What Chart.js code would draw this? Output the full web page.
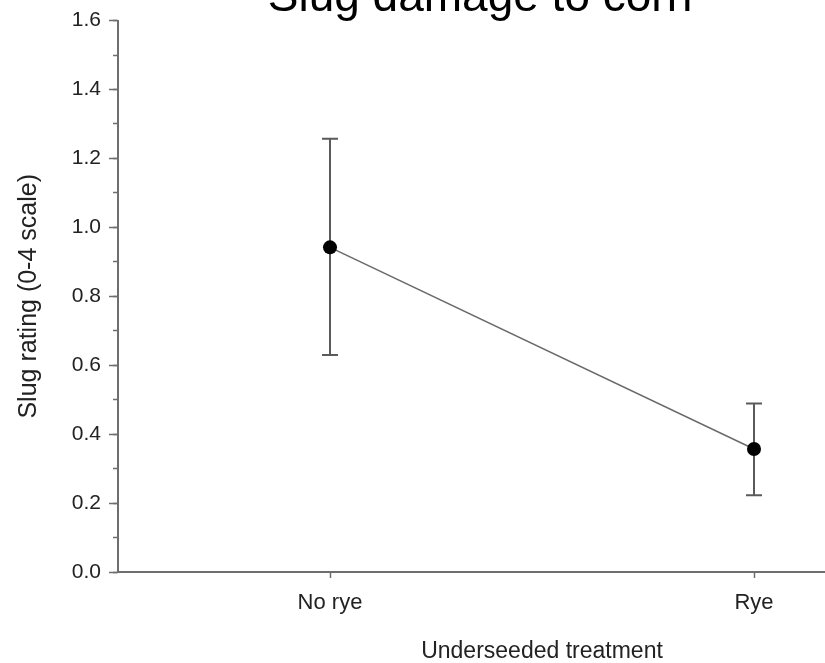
<!DOCTYPE html>
<html>
<head>
<meta charset="utf-8">
<script src="https://cdn.jsdelivr.net/npm/chart.js@4"></script>
<style>
  html, body { margin: 0; padding: 0; background: #fff; overflow: hidden; }
  #wrap { position: absolute; left: 0; top: 0; }
</style>
</head>
<body>
<div id="wrap"><canvas id="slugChart" width="980" height="663"></canvas></div>
<script>
// data
const categories = ['No rye', 'Rye'];
const meanRating = [0.942, 0.357];
const errHigh = [1.257, 0.489];
const errLow = [0.630, 0.223];
const yTickLabels = ['0.0', '0.2', '0.4', '0.6', '0.8', '1.0', '1.2', '1.4', '1.6'];
const chartTitle = 'Slug damage to corn';

const axisGray = '#6e6e6e';
const fontFam = '"Liberation Sans", Arial, sans-serif';

// error bars, drawn under the points
const errorBars = {
    id: 'errorBars',
    beforeDatasetsDraw(chart) {
        const ctx = chart.ctx;
        const x = chart.scales.x;
        const y = chart.scales.y;
        ctx.save();
        ctx.strokeStyle = '#5a5a5a';
        ctx.lineWidth = 2;
        for (let i = 0; i < categories.length; i++) {
            const px = x.getPixelForValue(i);
            const top = y.getPixelForValue(errHigh[i]);
            const bot = y.getPixelForValue(errLow[i]);
            ctx.beginPath();
            ctx.moveTo(px, top); ctx.lineTo(px, bot);
            ctx.moveTo(px - 8, top); ctx.lineTo(px + 8, top);
            ctx.moveTo(px - 8, bot); ctx.lineTo(px + 8, bot);
            ctx.stroke();
        }
        ctx.restore();
    }
};

// big title, partly cut off at the top like the original
const topTitle = {
    id: 'topTitle',
    afterDraw(chart) {
        const ctx = chart.ctx;
        ctx.save();
        ctx.font = '46px ' + fontFam;
        ctx.fillStyle = '#000';
        ctx.textAlign = 'center';
        ctx.textBaseline = 'alphabetic';
        ctx.fillText(chartTitle, 480, 11);
        ctx.restore();
    }
};

const ctx = document.getElementById('slugChart').getContext('2d');
const slugChart = new Chart(ctx, {
    type: 'line',
    data: {
        labels: categories,
        datasets: [{
            data: meanRating,
            borderColor: '#6a6a6a',
            borderWidth: 1.5,
            pointRadius: 7,
            pointBackgroundColor: '#000',
            pointBorderColor: '#000',
            pointBorderWidth: 0,
            tension: 0
        }]
    },
    options: {
        responsive: false,
        animation: false,
        layout: { padding: { top: 18, right: 14, left: 0, bottom: 0 } },
        plugins: {
            legend: { display: false },
            tooltip: { enabled: false },
            title: { display: false }
        },
        scales: {
            x: {
                type: 'category',
                offset: true,
                grid: { offset: false, drawOnChartArea: false, tickLength: 6, tickColor: axisGray, tickWidth: 1.5 },
                border: { color: axisGray, width: 2 },
                ticks: { color: '#222', font: { family: fontFam, size: 22 }, padding: 12 },
                title: {
                    display: true,
                    text: 'Underseeded treatment',
                    color: '#222',
                    font: { family: fontFam, size: 23, lineHeight: 1 },
                    padding: { top: 0, bottom: 0 }
                },
                afterFit(scale) { scale.height = 91; }
            },
            y: {
                weight: 1,
                min: 0,
                max: 1.6,
                ticks: {
                    stepSize: 0.2,
                    color: '#222',
                    font: { family: fontFam, size: 21 },
                    padding: 8,
                    callback: (v) => yTickLabels[Math.round(v / 0.2)]
                },
                grid: { drawOnChartArea: false, tickLength: 9, tickColor: axisGray, tickWidth: 1.5 },
                border: { color: axisGray, width: 2 },
                title: {
                    display: true,
                    text: 'Slug rating (0-4 scale)',
                    color: '#222',
                    font: { family: fontFam, size: 25, lineHeight: 1 },
                    padding: { top: 17, bottom: 0 }
                },
                afterFit(scale) { scale.width = 118; }
            },
            // minor ticks every 0.1
            yMinor: {
                position: 'left',
                weight: 0,
                min: 0,
                max: 1.6,
                ticks: { stepSize: 0.1, display: false },
                grid: { drawOnChartArea: false, tickLength: 5, tickColor: axisGray, tickWidth: 1.5 },
                border: { display: false },
                afterFit(scale) { scale.width = 0; }
            }
        }
    },
    plugins: [errorBars, topTitle]
});
</script>
</body>
</html>
